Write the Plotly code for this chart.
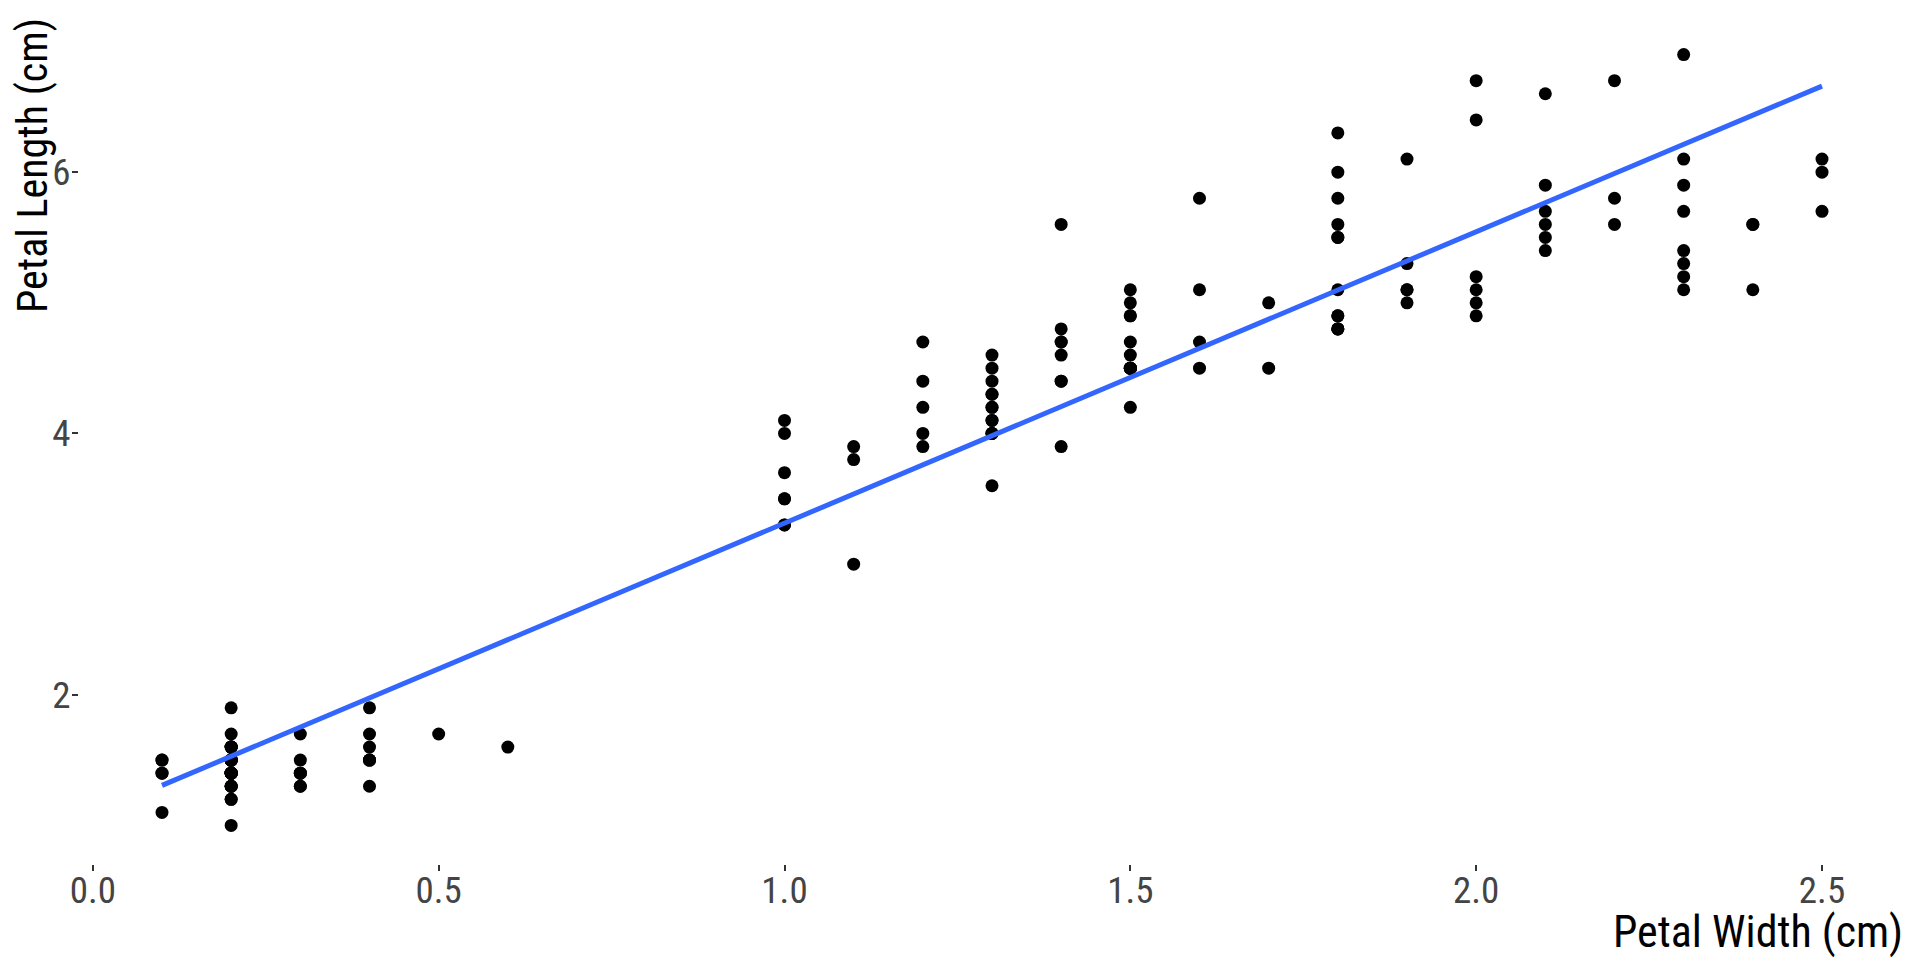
"""Iris petal width vs petal length with a linear fit"""

import numpy as np
import plotly.graph_objects as go

# iris data, rows 1-150
petal_width = [
    0.2, 0.2, 0.2, 0.2, 0.2, 0.4, 0.3, 0.2, 0.2, 0.1,
    0.2, 0.2, 0.1, 0.1, 0.2, 0.4, 0.4, 0.3, 0.3, 0.3,
    0.2, 0.4, 0.2, 0.5, 0.2, 0.2, 0.4, 0.2, 0.2, 0.2,
    0.2, 0.4, 0.1, 0.2, 0.2, 0.2, 0.2, 0.1, 0.2, 0.2,
    0.3, 0.3, 0.2, 0.6, 0.4, 0.3, 0.2, 0.2, 0.2, 0.2,
    1.4, 1.5, 1.5, 1.3, 1.5, 1.3, 1.6, 1.0, 1.3, 1.4,
    1.0, 1.5, 1.0, 1.4, 1.3, 1.4, 1.5, 1.0, 1.5, 1.1,
    1.8, 1.3, 1.5, 1.2, 1.3, 1.4, 1.4, 1.7, 1.5, 1.0,
    1.1, 1.0, 1.2, 1.6, 1.5, 1.6, 1.5, 1.3, 1.3, 1.3,
    1.2, 1.4, 1.2, 1.0, 1.3, 1.2, 1.3, 1.3, 1.1, 1.3,
    2.5, 1.9, 2.1, 1.8, 2.2, 2.1, 1.7, 1.8, 1.8, 2.5,
    2.0, 1.9, 2.1, 2.0, 2.4, 2.3, 1.8, 2.2, 2.3, 1.5,
    2.3, 2.0, 2.0, 1.8, 2.1, 1.8, 1.8, 1.8, 2.1, 1.6,
    1.9, 2.0, 2.2, 1.5, 1.4, 2.3, 2.4, 1.8, 1.8, 2.1,
    2.4, 2.3, 1.9, 2.3, 2.5, 2.3, 1.9, 2.0, 2.3, 1.8,
]
petal_length = [
    1.4, 1.4, 1.3, 1.5, 1.4, 1.7, 1.4, 1.5, 1.4, 1.5,
    1.5, 1.6, 1.4, 1.1, 1.2, 1.5, 1.3, 1.4, 1.7, 1.5,
    1.7, 1.5, 1.0, 1.7, 1.9, 1.6, 1.6, 1.5, 1.4, 1.6,
    1.6, 1.5, 1.5, 1.4, 1.5, 1.2, 1.3, 1.4, 1.3, 1.5,
    1.3, 1.3, 1.3, 1.6, 1.9, 1.4, 1.6, 1.4, 1.5, 1.4,
    4.7, 4.5, 4.9, 4.0, 4.6, 4.5, 4.7, 3.3, 4.6, 3.9,
    3.5, 4.2, 4.0, 4.7, 3.6, 4.4, 4.5, 4.1, 4.5, 3.9,
    4.8, 4.0, 4.9, 4.7, 4.3, 4.4, 4.8, 5.0, 4.5, 3.5,
    3.8, 3.7, 3.9, 5.1, 4.5, 4.5, 4.7, 4.4, 4.1, 4.0,
    4.4, 4.6, 4.0, 3.3, 4.2, 4.2, 4.2, 4.3, 3.0, 4.1,
    6.0, 5.1, 5.9, 5.6, 5.8, 6.6, 4.5, 6.3, 5.8, 6.1,
    5.1, 5.3, 5.5, 5.0, 5.1, 5.3, 5.5, 6.7, 6.9, 5.0,
    5.7, 4.9, 6.7, 4.9, 5.7, 6.0, 4.8, 4.9, 5.6, 5.8,
    6.1, 6.4, 5.6, 5.1, 5.6, 6.1, 5.6, 5.5, 4.8, 5.4,
    5.6, 5.1, 5.1, 5.9, 5.7, 5.2, 5.0, 5.2, 5.4, 5.1,
]

x_ticks = [0.0, 0.5, 1.0, 1.5, 2.0, 2.5]
x_tick_labels = ["0.0", "0.5", "1.0", "1.5", "2.0", "2.5"]
y_ticks = [2, 4, 6]
y_tick_labels = ["2", "4", "6"]

FONT = "Roboto Condensed, Liberation Sans Narrow, Roboto, sans-serif"

# linear fit, like geom_smooth(method = "lm", se = FALSE)
slope, intercept = np.polyfit(petal_width, petal_length, 1)
fit_x = [min(petal_width), max(petal_width)]
fit_y = [intercept + slope * v for v in fit_x]

fig = go.Figure()

fig.add_trace(go.Scatter(
    x=petal_width,
    y=petal_length,
    mode='markers',
    marker=dict(color='black', size=13, line=dict(width=0)),
    showlegend=False
))

fig.add_trace(go.Scatter(
    x=fit_x,
    y=fit_y,
    mode='lines',
    line=dict(color='#3366FF', width=5),
    showlegend=False
))

# the page body adds 8px on the left and top, margins allow for it
fig.update_layout(
    width=1920,
    height=960,
    plot_bgcolor='white',
    paper_bgcolor='white',
    margin=dict(l=71, r=23, t=8, b=104),
    font=dict(family=FONT, color='#444444'),
    annotations=[
        dict(
            text="Petal Width (cm)",
            xref='paper', yref='paper',
            x=1, y=-0.080,
            xanchor='right', yanchor='middle',
            showarrow=False,
            font=dict(family=FONT, size=44, color='black')
        ),
        dict(
            text="Petal Length (cm)",
            xref='paper', yref='paper',
            x=-0.0255, y=1,
            xanchor='center', yanchor='top',
            textangle=-90,
            showarrow=False,
            font=dict(family=FONT, size=42, color='black')
        ),
    ]
)

fig.update_xaxes(
    range=[-0.02, 2.62],
    tickvals=x_ticks,
    ticktext=x_tick_labels,
    ticks='outside',
    ticklen=6,
    tickwidth=1.5,
    tickcolor='#333333',
    ticklabelstandoff=-12,
    tickfont=dict(family=FONT, size=37, color='#444444'),
    showgrid=False,
    zeroline=False,
    showline=False
)
fig.update_yaxes(
    range=[0.705, 7.195],
    tickvals=y_ticks,
    ticktext=y_tick_labels,
    ticks='outside',
    ticklen=6,
    tickwidth=1.5,
    tickcolor='#333333',
    ticklabelstandoff=-6,
    tickfont=dict(family=FONT, size=37, color='#444444'),
    showgrid=False,
    zeroline=False,
    showline=False
)

fig.write_html("out.html")
